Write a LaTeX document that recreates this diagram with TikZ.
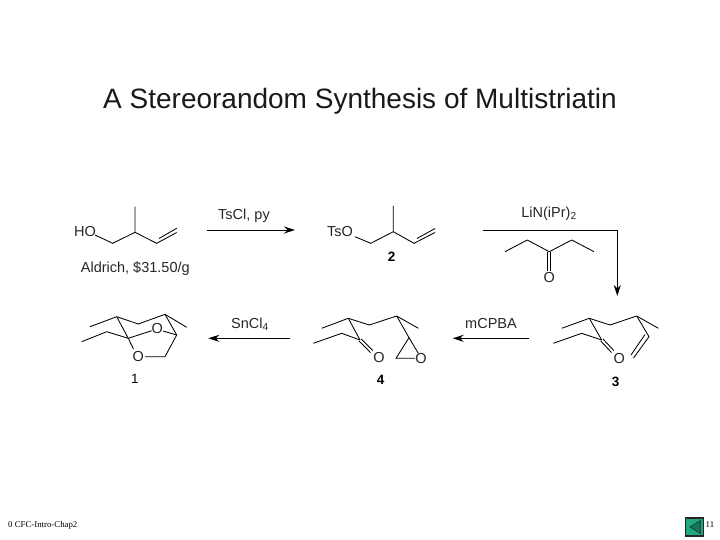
\documentclass[tikz,border=0pt]{standalone}
\usepackage{fontspec}
\setmainfont{Liberation Sans}
\newfontfamily\footfont{Liberation Serif}
\usepackage{amsmath,amssymb}
\usetikzlibrary{arrows.meta}
\definecolor{btngreen}{RGB}{30,170,125}
\definecolor{btndark}{RGB}{25,85,70}
\tikzset{
  bond/.style={line width=0.85pt, line join=miter},
  rxn/.style={line width=0.95pt, -{Stealth[length=11pt,width=7pt]}},
  chem/.style={font=\fontsize{14.5}{15}\selectfont, inner sep=0pt, text=black!85},
  num/.style={font=\fontsize{13.5}{15}\selectfont\bfseries, inner sep=0pt},
}
\begin{document}
\begin{tikzpicture}[x=1pt,y=-1pt]
\useasboundingbox (0,0) rectangle (720,540);
\node [font=\fontsize{28}{32}\selectfont, inner sep=0pt, text=black!90] (title) at (360,101.5) {A Stereorandom Synthesis of Multistriatin};
% top row
\node [chem] (ho) at (85,232) {HO};
\draw [bond] (95,235) -- (112.7,243.3) -- (135,232.3) -- (135,206.7);
\draw [bond] (135,232.3) -- (156.7,243.3) -- (176.7,232.5);
\draw [bond] (159,238.5) -- (176.7,228.3);
\node [chem] (price) at (135.3,268.5) {Aldrich, \$31.50/g};
\coordinate (a1s) at (206.7,230);
\coordinate (a1e) at (295,230);
\draw [rxn] (a1s) -- (a1e);
\node [chem] (tscl) at (244,216) {TsCl, py};
\node [chem] (tso) at (340,232) {TsO};
\draw [bond] (355,236.7) -- (370.7,243.3) -- (393.3,231.7) -- (393.3,205.7);
\draw [bond] (393.3,231.7) -- (414,243.3) -- (435,232.5);
\draw [bond] (417,238.5) -- (435,228.5);
\node [num] (n2) at (391.7,256.7) {2};
\coordinate (a2s) at (482.7,230);
\coordinate (a2c) at (617.3,230);
\coordinate (a2e) at (617.3,296);
\draw [rxn] (a2s) -- (a2c) -- (a2e);
\node [chem] (lin) at (549,213.5) {LiN(iPr)\textsubscript{2}};
\draw [bond] (505,251.7) -- (527.3,240) -- (549.3,251.7) -- (571.7,240) -- (594,251.7);
\draw [bond] (547.8,251.7) -- (547.8,271);
\draw [bond] (550.8,251.7) -- (550.8,271);
\node [chem] (ok) at (549.3,277.7) {O};
% bottom row, compound 3
\draw [bond] (561.7,328.3) -- (589.3,318.3) -- (610,325) -- (636.7,316) -- (658.3,328.3);
\draw [bond] (589.3,318.3) -- (601.7,340);
\draw [bond] (553.3,343.3) -- (581.7,333.3) -- (601.7,340);
\draw [bond] (600.7,341) -- (611.5,352.5);
\draw [bond] (603,339) -- (613.8,350.5);
\node [chem] (o3) at (619.3,358.3) {O};
\draw [bond] (636.7,316) -- (649,336.7) -- (633.5,358);
\draw [bond] (645,334.5) -- (631,355);
\node [num] (n3) at (615.7,381.7) {3};
\coordinate (a3s) at (529,338.3);
\coordinate (a3e) at (452.7,338.3);
\draw [rxn] (a3s) -- (a3e);
\node [chem] (mcpba) at (491,324) {mCPBA};
% compound 4
\draw [bond] (321.7,328.3) -- (348.3,318.3) -- (369.3,325) -- (396.7,316) -- (418.3,328.3);
\draw [bond] (348.3,318.3) -- (360,340);
\draw [bond] (313.3,343.3) -- (341.7,333.3) -- (360,340);
\draw [bond] (359,341) -- (370.5,352.5);
\draw [bond] (361.3,339) -- (372.8,350.5);
\node [chem] (o4) at (379,357.7) {O};
\draw [bond] (396.7,316) -- (409,337.7) -- (396,358.3) -- (415,358.3);
\draw [bond] (409,337.7) -- (418.3,353.3);
\node [chem] (oe) at (421,358.3) {O};
\node [num] (n4) at (380.7,380) {4};
\coordinate (a4s) at (290,338.3);
\coordinate (a4e) at (208.3,338.3);
\draw [rxn] (a4s) -- (a4e);
\node [chem] (sncl) at (250,324.5) {SnCl\textsubscript{4}};
% compound 1
\draw [bond] (90,326.7) -- (116.7,316.7) -- (138.3,324) -- (165,314.3) -- (186.7,327.3);
\draw [bond] (165,314.3) -- (176.7,335) -- (165,356.7) -- (145,356.7);
\draw [bond] (116.7,316.7) -- (128.3,338.3) -- (133.5,349);
\draw [bond] (128.3,338.3) -- (151.7,330.7);
\draw [bond] (163,331) -- (176.7,335);
\draw [bond] (81.7,341.7) -- (106.7,331.7) -- (128.3,338.3);
\node [chem] (oa) at (157.3,328.3) {O};
\node [chem] (ob) at (138.3,356.7) {O};
\node [font=\fontsize{13.5}{15}\selectfont, inner sep=0pt] (n1) at (135,379) {1};
% footer
\node [font=\footfont\fontsize{8.8}{9}\selectfont, anchor=west, inner sep=0pt] (foot) at (8,525) {0 CFC-Intro-Chap2};
\node [draw=black!85, fill=btngreen, line width=1.2pt, minimum width=18pt, minimum height=18pt, inner sep=0pt] (btn) at (694.5,527) {};
\fill [btndark] (701,519.5) -- (701,534.5) -- (689,527) -- cycle;
\fill [btngreen!70!black] (699.5,522) -- (699.5,532) -- (691.5,527) -- cycle;
\node [font=\footfont\fontsize{8.8}{9}\selectfont, anchor=west, inner sep=0pt] (page) at (705.5,525) {11};
\end{tikzpicture}
\end{document}
